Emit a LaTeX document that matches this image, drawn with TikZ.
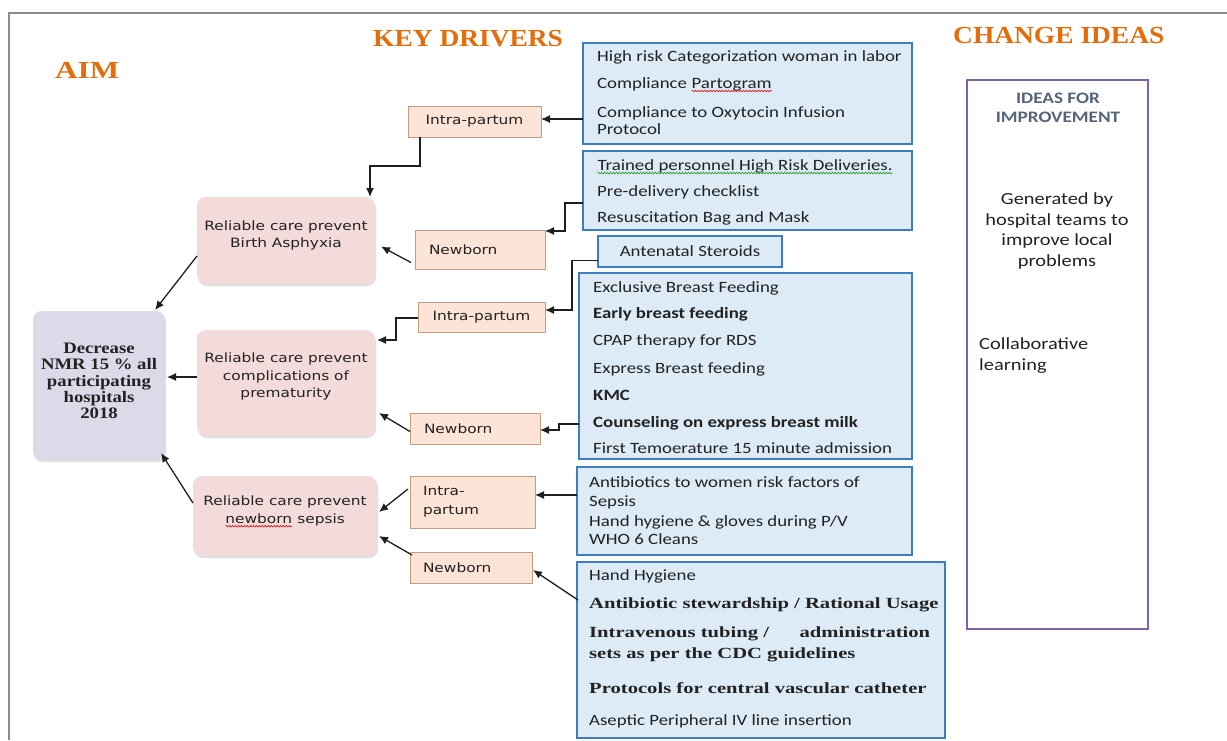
\documentclass[tikz,border=0pt]{standalone}
\usepackage{fontspec}
\usepackage{graphicx}
\setmainfont{Liberation Serif}
\newfontfamily\cfont[FakeStretch=1.2]{Carlito}
\newfontfamily\vfont[FakeStretch=1.2]{DejaVu Sans}
\newfontfamily\afont[FakeStretch=1.17]{Liberation Serif}
\newfontfamily\bsfont[FakeStretch=1.33]{Liberation Serif}
\usetikzlibrary{arrows.meta,shadows,decorations.pathmorphing}

\definecolor{orng}{HTML}{E46C0A}
\definecolor{aimfill}{HTML}{DCD9E8}
\definecolor{drvfill}{HTML}{F2DBDA}
\definecolor{secfill}{HTML}{FCE4D6}
\definecolor{secdraw}{HTML}{C49C86}
\definecolor{bluefill}{HTML}{DDEBF6}
\definecolor{bluedraw}{HTML}{3C7EC0}
\definecolor{purp}{HTML}{8064A2}
\definecolor{txt}{HTML}{222222}
\definecolor{idea}{HTML}{56657A}
\definecolor{framec}{HTML}{8C8C8C}
\definecolor{squigred}{HTML}{E02020}
\definecolor{squiggreen}{HTML}{30A030}

\newcommand\squig[2]{\tikz[baseline=(sq.base)]{\node[inner sep=0pt,outer sep=0pt,anchor=base](sq){#2};\draw[#1,line width=0.7pt,decorate,decoration={snake,amplitude=0.8pt,segment length=3pt}]([yshift=-3pt]sq.base west)--([yshift=-3pt]sq.base east);}}

\tikzset{
  title/.style={text=orng,font=\bfseries\fontsize{24.5}{28}\selectfont,inner sep=0pt},
  aimbox/.style={fill=aimfill,rounded corners=9pt,inner sep=0pt,outer sep=0pt,
    drop shadow={shadow xshift=1pt,shadow yshift=-2pt,opacity=0.25}},
  aimtext/.style={text=txt,align=center,inner sep=0pt,font=\afont\bfseries\fontsize{16}{16.4}\selectfont},
  drvbox/.style={fill=drvfill,rounded corners=9pt,inner sep=0pt,outer sep=0pt,
    drop shadow={shadow xshift=1pt,shadow yshift=-2pt,opacity=0.25}},
  drvtext/.style={text=txt,align=center,inner sep=0pt,font=\vfont\fontsize{12.8}{17.8}\selectfont},
  secbox/.style={fill=secfill,draw=secdraw,line width=1pt,outer sep=0pt,inner ysep=0pt,
    text=txt,font=\vfont\fontsize{12.8}{19}\selectfont},
  bluebox/.style={fill=bluefill,draw=bluedraw,line width=1.3pt,inner sep=0pt,outer sep=0pt,
    text=txt,font=\cfont\fontsize{15.7}{19}\selectfont},
  bt/.style={text=txt,inner sep=0pt,anchor=base west,font=\cfont\fontsize{15.7}{19}\selectfont},
  bbt/.style={bt,font=\cfont\bfseries\fontsize{15.7}{19}\selectfont},
  bst/.style={bt,font=\bsfont\bfseries\fontsize{15.5}{19}\selectfont},
  ideabox/.style={draw=purp,line width=2pt,fill=white,inner sep=0pt,outer sep=0pt},
  conn/.style={draw=black!88,line width=1.3pt,-{Latex[length=9pt,width=8pt]}}
}

\begin{document}
\begin{tikzpicture}[x=1pt,y=-1pt]
\useasboundingbox (0,0) rectangle (1227,740);
\fill[white] (0,0) rectangle (1227,740);
\draw[framec,line width=1.6pt] (9,740) -- (9,13) -- (1227,13);

% titles
\node[title,anchor=base west] (taim) at (55,78) {\scalebox{1.27}[1]{AIM}};
\node[title,anchor=base west] (tkey) at (373,46) {\scalebox{1.12}[1]{KEY DRIVERS}};
\node[title,anchor=base west] (tchg) at (953,43) {\scalebox{1.12}[1]{CHANGE IDEAS}};

% aim
\node[aimbox,minimum width=132pt,minimum height=149pt] (aim) at (99,385.5) {};
\node[aimtext] (aimt) at (99,381) {Decrease\\NMR 15 \% all\\participating\\hospitals\\2018};

% primary drivers
\node[drvbox,minimum width=178pt,minimum height=87pt] (d1) at (286,240.5) {};
\node[drvtext] (d1t) at (286,235.5) {Reliable care prevent\\Birth Asphyxia};
\node[drvbox,minimum width=178pt,minimum height=106pt] (d2) at (286,383) {};
\node[drvtext] (d2t) at (286,376.5) {Reliable care prevent\\complications of\\prematurity};
\node[drvbox,minimum width=184pt,minimum height=80pt] (d3) at (285,516) {};
\node[drvtext] (d3t) at (285,511.5) {Reliable care prevent\\\squig{squigred}{newborn} sepsis};

% secondary drivers
\node[secbox,minimum width=133pt,minimum height=31pt] (ip1) at (474.5,121.5) {Intra-partum};
\node[secbox,minimum width=130pt,minimum height=39pt,inner xsep=14pt,text width=102pt,align=left] (nb1) at (480,249.5) {Newborn};
\node[secbox,minimum width=127pt,minimum height=30pt] (ip2) at (481.5,317) {Intra-partum};
\node[secbox,minimum width=130pt,minimum height=31pt,inner xsep=14pt,text width=102pt,align=left] (nb2) at (475,428.5) {Newborn};
\node[secbox,minimum width=125pt,minimum height=52pt,inner xsep=13pt,text width=99pt,align=left] (ip3) at (472.5,502) {Intra-\\partum};
\node[secbox,minimum width=122pt,minimum height=31pt,inner xsep=13pt,text width=96pt,align=left] (nb3) at (471,567.5) {Newborn};

% change idea boxes
\node[bluebox,minimum width=329pt,minimum height=101pt] (b1) at (747.5,93.5) {};
\node[bt] (b1a) at (597,61) {High risk Categorization woman in labor};
\node[bt] (b1b) at (597,88) {Compliance \squig{squigred}{Partogram}};
\node[bt] (b1c) at (597,117) {Compliance to Oxytocin Infusion};
\node[bt] (b1d) at (597,134) {Protocol};

\node[bluebox,minimum width=329pt,minimum height=79pt] (b2) at (747.5,190.5) {};
\node[bt] (b2a) at (597,170) {\squig{squiggreen}{Trained personnel High Risk Deliveries.}};
\node[bt] (b2b) at (597,196) {Pre-delivery checklist};
\node[bt] (b2c) at (597,222) {Resuscitation Bag and Mask};

\node[bluebox,minimum width=184pt,minimum height=31pt] (b3) at (690,251.5) {Antenatal Steroids};

\node[bluebox,minimum width=333pt,minimum height=186pt] (b4) at (745.5,366) {};
\node[bt] (b4a) at (593,292) {Exclusive Breast Feeding};
\node[bbt] (b4b) at (593,318) {Early breast feeding};
\node[bt] (b4c) at (593,345) {CPAP therapy for RDS};
\node[bt] (b4d) at (593,373) {Express Breast feeding};
\node[bbt] (b4e) at (593,400) {KMC};
\node[bbt] (b4f) at (593,427) {Counseling on express breast milk};
\node[bt] (b4g) at (593,453) {First Temoerature 15 minute admission};

\node[bluebox,minimum width=335pt,minimum height=88pt] (b5) at (744.5,511) {};
\node[bt] (b5a) at (589,487) {Antibiotics to women risk factors of};
\node[bt] (b5b) at (589,506) {Sepsis};
\node[bt] (b5c) at (589,526) {Hand hygiene \& gloves during P/V};
\node[bt] (b5d) at (589,544) {WHO 6 Cleans};

\node[bluebox,minimum width=368pt,minimum height=176pt] (b6) at (761,650) {};
\node[bt] (b6a) at (589,580) {Hand Hygiene};
\node[bst] (b6b) at (589,608) {Antibiotic stewardship / Rational Usage};
\node[bst] (b6c) at (589,637) {\hbox to 341pt{Intravenous tubing /\hfill administration}};
\node[bst] (b6d) at (589,658) {sets as per the CDC guidelines};
\node[bst] (b6e) at (589,693) {Protocols for central vascular catheter};
\node[bt] (b6f) at (589,725) {Aseptic Peripheral IV line insertion};

% ideas
\node[ideabox,minimum width=181pt,minimum height=549pt] (ci) at (1057.5,354.5) {};
\node[text=idea,align=center,inner sep=0pt,font=\cfont\bfseries\fontsize{16}{19.5}\selectfont] (ci1) at (1058,108) {IDEAS FOR\\IMPROVEMENT};
\node[text=txt,align=center,inner sep=0pt,font=\cfont\fontsize{17}{20.5}\selectfont] (ci2) at (1057,231) {Generated by\\hospital teams to\\improve local\\problems};
\node[text=txt,align=left,inner sep=0pt,anchor=west,font=\cfont\fontsize{17}{21}\selectfont] (ci3) at (979,356) {Collaborative\\learning};

% connectors
\draw[conn] ([yshift=-25.5pt]b1.west) -- ([yshift=2.5pt]ip1.east);
\draw[conn] ([xshift=12pt]ip1.south west) -- ++(0,29) -| ([xshift=-5pt]d1.north east);
\draw[conn] ([yshift=-12.5pt]b2.west) -- ++(-18,0) |- ([yshift=-1pt]nb1.north east);
\draw[conn] ([xshift=-4pt,yshift=-13pt]nb1.west) -- ([xshift=6pt,yshift=-6pt]d1.east);
\draw[conn] ([yshift=-9pt]b3.west) -- ++(-26,0) |- ([yshift=7pt]ip2.east);
\draw[conn] ([yshift=-1pt]ip2.west) -- ++(-22,0) |- ([xshift=2pt,yshift=-10pt]d2.north east);
\draw[conn] ([yshift=-58pt]b4.west) -- ++(-20,0) |- ([yshift=-1.5pt]nb2.east);
\draw[conn] ([yshift=-3pt]nb2.west) -- ([xshift=4pt,yshift=-30pt]d2.east);
\draw[conn] ([yshift=6pt]d2.west) -- ([xshift=2pt,yshift=8.5pt]aim.east);
\draw[conn] ([yshift=-15.5pt]d1.west) -- ([xshift=-10pt,yshift=1pt]aim.north east);
\draw[conn] ([yshift=13pt]d3.west) -- ([xshift=-4pt,yshift=7pt]aim.south east);
\draw[conn] ([xshift=-2pt,yshift=13pt]ip3.west) -- ([xshift=2pt,yshift=4pt]d3.east);
\draw[conn] ([yshift=16pt]b5.west) -- ([yshift=7pt]ip3.east);
\draw[conn] ([xshift=2pt,yshift=12.5pt]nb3.west) -- ([xshift=2pt,yshift=-20pt]d3.east);
\draw[conn] ([xshift=1pt,yshift=50pt]b6.west) -- ([xshift=1pt,yshift=-2.5pt]nb3.east);
\end{tikzpicture}
\end{document}
